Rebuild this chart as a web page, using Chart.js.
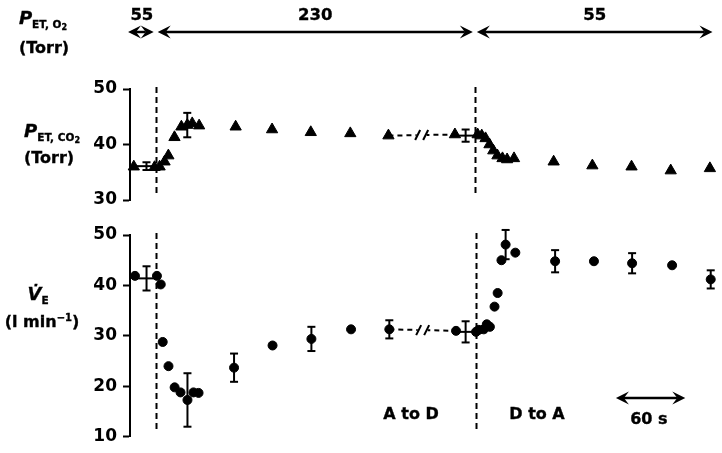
<!DOCTYPE html>
<html>
<head>
<meta charset="utf-8">
<script src="https://cdn.jsdelivr.net/npm/chart.js@4.4.1/dist/chart.umd.min.js"></script>
<style>
  html, body { margin: 0; padding: 0; background: #fff; }
  #wrap { position: relative; width: 722px; height: 453px; overflow: hidden; }
  canvas { position: absolute; left: 0; top: 0; }
  .t { position: absolute; font-family: 'DejaVu Sans', sans-serif; font-weight: bold; font-size: 16px;
       color: #000; white-space: nowrap; line-height: 1; transform: translate(-50%, -50%);
       -webkit-text-stroke: 0.35px #000; }
  .s { font-size: 10.5px; position: relative; top: 4px; }
  .s2 { font-size: 8px; position: relative; top: 2px; }
  .up { font-size: 10px; position: relative; top: -6px; }
  .big { font-size: 18px; }
</style>
</head>
<body>
<div id="wrap">
  <canvas id="co2Chart" width="722" height="453"></canvas>
  <canvas id="veChart" width="722" height="453"></canvas>
  <div class="t" style="left:43px;top:18px"><i class="big">P</i><span class="s">ET, O<span class="s2">2</span></span></div>
  <div class="t" style="left:44px;top:48px">(Torr)</div>
  <div class="t" style="left:52px;top:131px"><i class="big">P</i><span class="s">ET, CO<span class="s2">2</span></span></div>
  <div class="t" style="left:49px;top:158px">(Torr)</div>
  <div class="t" style="left:38px;top:294px"><i class="big">V&#775;</i><span class="s">E</span></div>
  <div class="t" style="left:42px;top:322px">(l min<span class="up">&minus;1</span>)</div>
  <div class="t" style="left:411px;top:414px">A to D</div>
  <div class="t" style="left:537px;top:414px">D to A</div>
</div>
<script>
// time in s (0 = first switch); axis is broken between gapFrom and gapTo
const switchTimes = [0, 277];
const gapFrom = 202;
const gapTo = 259.7;

// end-tidal PCO2 (Torr)
const co2Time = [-19, -1, 3.4, 7.7, 11, 16.3, 22.3, 27.4, 31.7, 37.7, 69.4, 101, 134.6, 168.9, 202,
                 259.7, 279.4, 283, 286.3, 289.7, 293, 296.6, 301, 305, 311, 345.4, 379, 413, 447, 481];
const co2Val = [36.0, 35.9, 36.0, 36.9, 38.0, 41.3, 43.2, 43.5, 43.8, 43.4, 43.2, 42.7, 42.2, 42.0, 41.6,
                41.8, 41.8, 41.6, 41.1, 40.0, 38.9, 38.0, 37.5, 37.3, 37.5, 36.9, 36.2, 36.0, 35.3, 35.7];
const co2ErrTime = [-8, 27.4, 269];
const co2ErrMean = [36.1, 43.5, 41.6];
const co2ErrSD = [0.7, 2.2, 1.1];
const co2ErrTimeSD = [9.4, 0, 8];

// ventilation (l/min)
const veTime = [-18, 1, 4.3, 6, 11, 16.3, 21.4, 27.4, 32.6, 37, 67.7, 101, 134.6, 168.9, 202,
                259.7, 277, 279.4, 283.7, 286.3, 289, 293, 295.7, 299, 302.6, 311, 345.4, 379, 412, 446.6, 480];
const veVal = [41.9, 41.9, 40.2, 28.8, 24.0, 19.8, 18.8, 17.3, 18.8, 18.7, 23.7, 28.1, 29.4, 31.3, 31.3,
               31.0, 30.8, 31.2, 31.3, 32.3, 31.8, 35.8, 38.5, 45.0, 48.1, 46.5, 44.8, 44.8, 44.4, 44.0, 41.2];
const veErrTime = [-8, 27.4, 67.7, 134.6, 202, 268, 302.6, 345.4, 412, 480];
const veErrMean = [41.4, 17.3, 23.7, 29.4, 31.3, 30.8, 48.1, 44.8, 44.4, 41.2];
const veErrSD = [2.4, 5.3, 2.8, 2.4, 1.8, 2.1, 2.9, 2.2, 2.0, 1.8];
const veErrTimeSD = [9.4, 0, 0, 0, 0, 8, 0, 0, 0, 0];

// PET,O2 phases (Torr) and their edges in time
const o2Levels = ['55', '230', '55'];
const o2Edges = [-24, 0, 277, 485];
const scaleBar = [398, 60];

const FONT = "'DejaVu Sans', sans-serif";

function toPoints(ts, vs) { return ts.map((t, i) => ({ x: t, y: vs[i] })); }
function pick(pts, t) { return pts.find(p => p.x === t); }

function line(ctx, x1, y1, x2, y2) {
  ctx.beginPath(); ctx.moveTo(x1, y1); ctx.lineTo(x2, y2); ctx.stroke();
}
function head(ctx, x, y, dir) {
  ctx.beginPath();
  ctx.moveTo(x, y);
  ctx.lineTo(x - dir * 13, y - 6.5);
  ctx.lineTo(x - dir * 8, y);
  ctx.lineTo(x - dir * 13, y + 6.5);
  ctx.closePath(); ctx.fill();
}
function dblArrow(ctx, x1, x2, y) {
  ctx.lineWidth = 2.5;
  line(ctx, x1 + 8, y, x2 - 8, y);
  head(ctx, x1, y, -1);
  head(ctx, x2, y, 1);
}

const marks = {
  id: 'marks',
  beforeDatasetsDraw(chart, args, o) {
    const { ctx, chartArea, scales: { x } } = chart;
    ctx.save();
    ctx.strokeStyle = '#000';
    ctx.lineWidth = 2;
    ctx.setLineDash([6, 4]);
    switchTimes.forEach(t => {
      const px = Math.round(x.getPixelForValue(t)) + 0.5;
      line(ctx, px, chartArea.top - 2, px, chartArea.bottom - 4);
    });
    ctx.restore();
  },
  afterDatasetsDraw(chart, args, o) {
    const { ctx, scales: { x, y } } = chart;
    ctx.save();
    ctx.strokeStyle = '#000';
    ctx.fillStyle = '#000';
    ctx.lineWidth = 2;
    // error bars
    o.errT.forEach((t, i) => {
      const px = x.getPixelForValue(t);
      const top = y.getPixelForValue(o.errM[i] + o.errSD[i]);
      const bot = y.getPixelForValue(o.errM[i] - o.errSD[i]);
      line(ctx, px, top, px, bot);
      line(ctx, px - 4, top, px + 4, top);
      line(ctx, px - 4, bot, px + 4, bot);
      if (o.errTSD[i]) {
        const py = y.getPixelForValue(o.errM[i]);
        line(ctx, x.getPixelForValue(t - o.errTSD[i]), py, x.getPixelForValue(t + o.errTSD[i]), py);
      }
    });
    // axis break on the dashed connector
    const a = pick(o.pts, gapFrom), b = pick(o.pts, gapTo);
    const mx = (x.getPixelForValue(a.x) + x.getPixelForValue(b.x)) / 2;
    const my = (y.getPixelForValue(a.y) + y.getPixelForValue(b.y)) / 2;
    ctx.fillStyle = '#fff';
    ctx.fillRect(mx - 5, my - 3, 10, 6);
    ctx.fillStyle = '#000';
    [-4, 4].forEach(d => line(ctx, mx + d - 2.5, my + 5, mx + d + 2.5, my - 5));
    // header arrows (top chart) / 60 s bar (bottom chart)
    if (o.header) {
      for (let i = 0; i < o2Levels.length; i++) {
        const x1 = x.getPixelForValue(o2Edges[i]) + (i ? 2 : 0);
        const x2 = Math.min(x.getPixelForValue(o2Edges[i + 1]) - 2, 721);
        dblArrow(ctx, x1, x2, 32);
      }
    }
    if (o.bar) {
      dblArrow(ctx, x.getPixelForValue(scaleBar[0]), x.getPixelForValue(scaleBar[0] + scaleBar[1]),
               y.getPixelForValue(o.bar));
    }
    ctx.restore();
  }
};

function yScale(min, max) {
  return {
    min, max,
    ticks: { stepSize: 10, padding: 6, color: '#000', font: { family: FONT, size: 17, weight: 'bold' } },
    grid: { drawOnChartArea: false, drawTicks: true, tickLength: 7, tickWidth: 2, tickColor: '#000', color: '#000' },
    border: { display: true, color: '#000', width: 2 },
    afterFit: s => { s.width = 130; }
  };
}

function makeChart(id, pts, style, radius, yMin, yMax, pad, extra) {
  const conn = [pick(pts, gapFrom), pick(pts, gapTo)];
  return new Chart(document.getElementById(id), {
    type: 'scatter',
    data: {
      datasets: [
        { type: 'line', data: conn, borderColor: '#000', borderWidth: 2, borderDash: [5, 4],
          pointRadius: 0, fill: false, clip: false },
        { data: pts, pointStyle: style, pointRadius: radius, backgroundColor: '#000',
          borderColor: '#000', borderWidth: 1, clip: false }
      ]
    },
    options: {
      responsive: false,
      animation: false,
      events: [],
      layout: { padding: pad },
      scales: {
        x: { type: 'linear', min: -22.3, max: 485, display: false },
        y: yScale(yMin, yMax)
      },
      plugins: {
        legend: { display: false },
        tooltip: { enabled: false },
        marks: Object.assign({ pts }, extra)
      }
    },
    plugins: [marks]
  });
}

const co2Chart = makeChart('co2Chart', toPoints(co2Time, co2Val), 'triangle', 6.5, 30, 50,
  { top: 89, bottom: 253, left: 0, right: 0 },
  { errT: co2ErrTime, errM: co2ErrMean, errSD: co2ErrSD, errTSD: co2ErrTimeSD, header: true });

const veChart = makeChart('veChart', toPoints(veTime, veVal), 'circle', 4.5, 10, 50,
  { top: 235, bottom: 10, left: 0, right: 0 },
  { errT: veErrTime, errM: veErrMean, errSD: veErrSD, errTSD: veErrTimeSD, bar: 17.7 });

// text tied to the time axis
const wrap = document.getElementById('wrap');
const xs = co2Chart.scales.x;
function addText(txt, left, top, size) {
  const d = document.createElement('div');
  d.className = 't';
  d.textContent = txt;
  d.style.left = left + 'px';
  d.style.top = top + 'px';
  if (size) d.style.fontSize = size + 'px';
  wrap.appendChild(d);
}
o2Levels.forEach((lv, i) => {
  const c = (xs.getPixelForValue(o2Edges[i]) + Math.min(xs.getPixelForValue(o2Edges[i + 1]), 721)) / 2;
  addText(lv, c, 15, 16.5);
});
addText(scaleBar[1] + ' s', xs.getPixelForValue(scaleBar[0] + scaleBar[1] / 2), 419);
</script>
</body>
</html>
